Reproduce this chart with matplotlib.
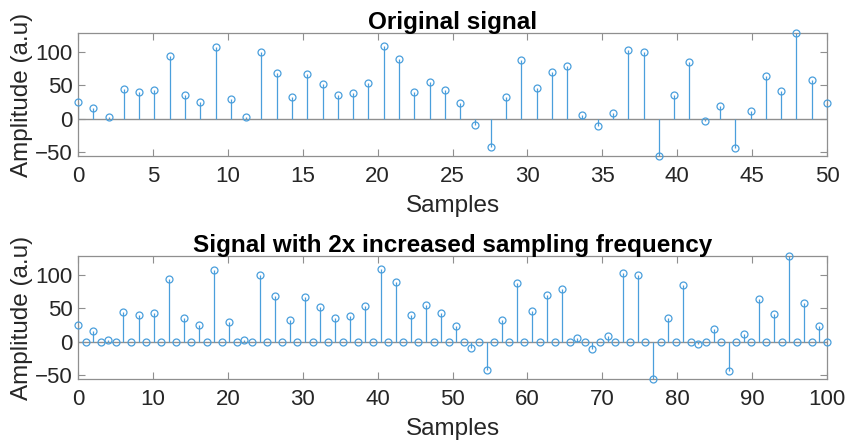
import numpy as np
import matplotlib
matplotlib.use("Agg")
import matplotlib.pyplot as plt

plt.rcParams['font.family'] = ['Liberation Sans', 'DejaVu Sans']

# Original signal values (50 samples, spanning 0..50)
original = [25, 16, 3, 44, 39, 43, 93, 35, 25, 107,
            29, 2, 100, 68, 33, 67, 51, 36, 38, 53,
            108, 89, 39, 54, 43, 23, -10, -42, 33, 87,
            46, 70, 79, 6, -11, 9, 102, 100, -56, 35,
            84, -4, 19, -44, 12, 63, 41, 128, 57, 23]

# Upsampled by 2 (zeros inserted), spanning 0..100
upsampled = []
for v in original:
    upsampled.extend([v, 0])

titles = ["Original signal", "Signal with 2x increased sampling frequency"]
xlabel = "Samples"
ylabel = "Amplitude (a.u)"
xticks_top = [0, 5, 10, 15, 20, 25, 30, 35, 40, 45, 50]
xticks_bot = [0, 10, 20, 30, 40, 50, 60, 70, 80, 90, 100]
yticks = [-50, 0, 50, 100]

stem_color = '#4a9fdc'
axis_color = '#8f8f8f'
text_color = '#262626'

fig = plt.figure(figsize=(8.46, 4.45), dpi=100)
ax1 = fig.add_axes([78/846, 1-156/445, 749/846, 123/445])
ax2 = fig.add_axes([78/846, 1-379/445, 749/846, 123/445])

series = [(ax1, original, 50, xticks_top), (ax2, upsampled, 100, xticks_bot)]
for i, (ax, vals, xmax, xt) in enumerate(series):
    vals = np.array(vals, dtype=float)
    x = np.linspace(0, xmax, len(vals))
    ml, sl, bl = ax.stem(x, vals, basefmt=' ')
    plt.setp(sl, color=stem_color, linewidth=0.9)
    plt.setp(ml, markerfacecolor='none', markeredgecolor=stem_color,
             markersize=5, markeredgewidth=0.9, clip_on=False, zorder=4)
    ax.axhline(0, color=axis_color, linewidth=1.0, zorder=1)
    ax.set_xlim(0, xmax)
    ax.set_ylim(vals.min(), vals.max())
    ax.set_xticks(xt)
    ax.set_yticks(yticks)
    ax.tick_params(direction='in', top=True, right=True, length=5,
                   width=0.8, color=axis_color, labelsize=16,
                   labelcolor=text_color)
    ax.tick_params(axis='x', pad=7)
    ax.tick_params(axis='y', pad=4)
    for s in ax.spines.values():
        s.set_color(axis_color)
        s.set_linewidth(0.9)
    ax.set_xlabel(xlabel, fontsize=17.5, color=text_color, labelpad=6)
    ax.set_ylabel(ylabel, fontsize=17.5, color=text_color, labelpad=1)
    ax.set_title(titles[i], fontsize=17.5, fontweight='bold', color='black', pad=3)

fig.savefig('out.png', dpi=100)
